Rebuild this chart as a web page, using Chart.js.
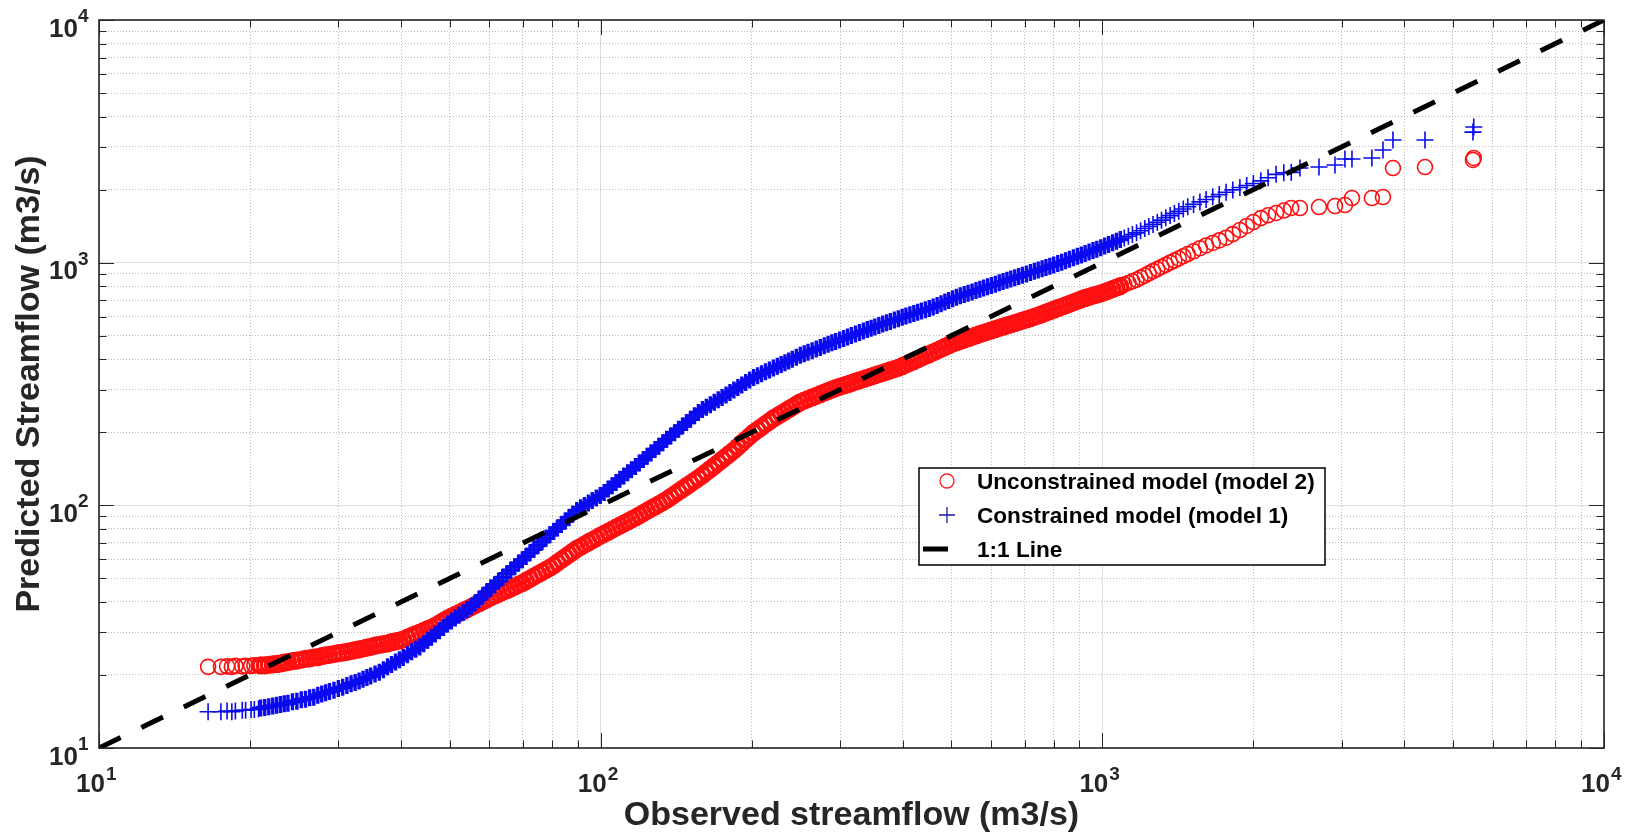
<!DOCTYPE html>
<html>
<head>
<meta charset="utf-8">
<title>Observed vs predicted streamflow</title>
<script src="https://cdn.jsdelivr.net/npm/chart.js@4.4.1/dist/chart.umd.min.js"></script>
<style>
  html, body { margin: 0; padding: 0; background: #fff; }
  #wrap { width: 1634px; height: 839px; position: relative; }
</style>
</head>
<body>
<div id="wrap"><canvas id="flowChart"></canvas></div>
<script>
// sorted observed flows (m3/s), shared by both models
const observed = [
  16.5, 17.5, 18.0, 18.4, 18.7, 19.3, 19.6, 20.1, 20.4, 20.8,
  21, 21.4, 21.8, 22.2, 22.6, 23, 23.4, 23.8, 24.3, 24.8,
  25.3, 25.8, 26.3, 26.8, 27.3, 27.8, 28.3, 28.8, 29.4, 30,
  30.6, 31.2, 31.8, 32.4, 33, 33.6, 34.2, 34.8, 35.5, 36.2,
  36.9, 37.6, 38.3, 39, 39.7, 40.4, 41.2, 42, 42.8, 43.6,
  44.4, 45.2, 46, 46.8, 47.7, 48.6, 49.5, 50.4, 51.3, 52.2,
  53.2, 54.2, 55.2, 56.2, 57.2, 58.2, 59.3, 60.4, 61.5, 62.6,
  63.8, 65, 66.2, 67.4, 68.6, 69.8, 71, 72.3, 73.6, 75,
  76.4, 77.8, 79.2, 80.6, 82, 83.5, 85, 86.5, 88, 89.6,
  91.2, 92.8, 94.5, 96.2, 98, 99.8, 101.6, 103.5, 105.4, 107.3,
  109.2, 111.2, 113.2, 115.2, 117.3, 119.4, 121.6, 123.8, 126, 128.3,
  130.6, 133, 135.4, 137.9, 140.4, 143, 145.6, 148.3, 151, 153.8,
  156.6, 159.5, 162.4, 165.4, 168.4, 171.5, 174.6, 177.8, 181, 184.3,
  187.7, 191.1, 194.6, 198.2, 201.8, 205.5, 209.3, 213.1, 217, 221,
  225, 229, 233, 237, 241, 245.5, 250, 254.5, 259, 264,
  269, 274, 279, 284, 289, 294, 299.5, 305, 310.5, 316,
  322, 328, 334, 340, 346, 352, 358.5, 365, 371.5, 378,
  385, 392, 399, 406, 413.5, 421, 428.5, 436, 444, 452,
  460, 468.5, 477, 485.5, 494, 503, 512, 521, 530.5, 540,
  550, 560, 570, 580, 590.5, 601, 612, 623, 634, 645.5,
  657, 669, 681, 693, 706, 719, 732, 745, 758.5, 772,
  786, 800, 815, 830, 845, 860, 876, 892, 908, 924,
  941, 958, 975, 993, 1011, 1029, 1048, 1067, 1086,
  1106, 1127, 1148, 1170, 1192, 1215, 1238, 1262, 1287, 1312,
  1338, 1365, 1392, 1420, 1450, 1480, 1520, 1565, 1610, 1660,
  1710, 1765, 1820, 1880, 1940, 2000, 2070, 2140, 2220, 2300,
  2380,
  2477, 2703, 2909, 3045, 3145, 3446, 3626, 3796, 4397, 5480, 5500
];

// unconstrained model (model 2), red circles
const model2 = [
  21.6, 21.6, 21.7, 21.6, 21.8, 21.7, 21.8, 21.8, 21.9, 21.9,
  21.9, 21.9, 22.0, 22.1, 22.2, 22.3, 22.5, 22.6, 22.8, 22.9,
  23.1, 23.3, 23.4, 23.6, 23.7, 23.9, 24.1, 24.2, 24.4, 24.6,
  24.7, 24.9, 25.1, 25.3, 25.5, 25.7, 25.9, 26.1, 26.4, 26.6,
  26.8, 27.0, 27.3, 27.5, 27.7, 28.0, 28.5, 29.0, 29.5, 29.9,
  30.4, 30.9, 31.3, 31.9, 32.6, 33.4, 34.1, 34.8, 35.4, 36.0,
  36.7, 37.4, 38.1, 38.8, 39.5, 40.2, 41.0, 41.8, 42.5, 43.2,
  44.0, 44.7, 45.5, 46.3, 47.1, 47.8, 48.8, 49.8, 50.9, 52.0,
  53.1, 54.2, 55.3, 56.6, 58.1, 59.6, 61.2, 62.8, 64.4, 66.1,
  67.5, 68.9, 70.3, 71.8, 73.3, 74.8, 76.3, 77.8, 79.4, 80.9,
  82.5, 84.1, 85.7, 87.4, 89.1, 91.0, 92.9, 94.9, 96.9, 98.9,
  101.0, 103.1, 105.4, 108.2, 111.0, 113.9, 116.8, 119.9, 123.0, 126.2,
  129.4, 133.0, 137.0, 141.1, 145.3, 149.7, 154.2, 158.8, 163.5, 168.5,
  174.3, 180.3, 186.5, 192.9, 199.2, 204.6, 210.3, 216.0, 221.9, 228.0,
  233.2, 238.4, 243.6, 248.8, 254.1, 260.0, 266.0, 270.0, 273.9, 278.3,
  282.7, 287.0, 291.4, 295.7, 300.0, 304.1, 307.9, 311.7, 315.4, 319.1,
  323.2, 327.2, 331.2, 335.0, 339.0, 343.0, 347.3, 351.5, 355.8, 360.0,
  364.5, 369.0, 374.4, 380.5, 386.9, 393.4, 399.9, 406.3, 413.2, 420.0,
  426.7, 434.2, 441.8, 449.4, 456.9, 464.0, 470.0, 475.9, 482.1, 488.3,
  494.8, 501.3, 507.7, 514.1, 520.1, 526.1, 532.3, 538.4, 544.6, 550.9,
  557.2, 563.7, 570.3, 576.7, 583.7, 590.6, 597.6, 605.8, 614.2, 622.6,
  631.3, 640.0, 649.2, 658.3, 667.5, 676.6, 686.3, 695.8, 705.5, 715.5,
  723.3, 731.1, 738.9, 747.1, 756.6, 767.3, 778.7, 790.0, 801.2,
  813, 825, 838, 850, 868, 885, 903, 923, 941, 960,
  980, 1000, 1020, 1041, 1063, 1085, 1114, 1147, 1177, 1206,
  1235, 1267, 1311, 1363, 1417, 1470, 1526, 1568, 1603, 1640,
  1680,
  1679, 1695, 1711, 1728, 1846, 1846, 1864, 2454, 2477, 2650, 2700
];

// constrained model (model 1), blue crosses
const model1 = [
  14.1, 14.1, 14.2, 14.1, 14.2, 14.3, 14.3, 14.4, 14.4, 14.5,
  14.6, 14.7, 14.8, 14.9, 15.0, 15.1, 15.2, 15.3, 15.5, 15.6,
  15.8, 15.9, 16.1, 16.2, 16.5, 16.7, 16.9, 17.1, 17.3, 17.6,
  17.8, 18.1, 18.4, 18.6, 18.9, 19.2, 19.5, 19.8, 20.2, 20.5,
  21.0, 21.6, 22.1, 22.6, 23.1, 23.6, 24.2, 24.9, 25.5, 26.1,
  26.9, 27.8, 28.6, 29.5, 30.4, 31.4, 32.4, 33.4, 34.3, 35.2,
  36.2, 37.2, 38.3, 39.6, 41.0, 42.4, 44.0, 45.6, 47.1, 48.7,
  50.5, 52.3, 54.1, 55.9, 57.8, 59.6, 61.6, 63.7, 65.9, 68.3,
  70.7, 73.1, 75.6, 78.1, 80.6, 83.4, 86.2, 89.1, 92.0, 95.2,
  97.7, 99.9, 102.2, 104.6, 107.2, 109.7, 113.0, 116.7, 120.4, 124.2,
  128.0, 132.0, 136.2, 140.3, 144.7, 149.3, 154.3, 159.3, 164.4, 169.8,
  175.3, 181.1, 187.0, 193.1, 199.2, 205.7, 212.3, 219.2, 226.3, 233.7,
  241.2, 248.0, 253.8, 259.8, 265.8, 272.1, 278.4, 285.0, 291.6, 298.6,
  305.9, 313.3, 320.9, 328.7, 336.3, 342.3, 348.6, 354.8, 361.1, 367.7,
  374.2, 380.7, 387.2, 393.7, 400.2, 407.6, 415.0, 421.1, 427.2, 434.0,
  440.7, 447.4, 454.1, 460.7, 467.4, 473.7, 480.5, 487.3, 494.1, 500.8,
  508.1, 515.4, 522.6, 530.0, 536.8, 543.6, 550.9, 558.2, 565.4, 572.7,
  580.3, 588.0, 595.7, 603.0, 610.4, 617.8, 625.2, 632.5, 640.3, 648.0,
  656.0, 666.6, 677.3, 687.8, 698.4, 709.7, 720.8, 729.8, 738.9, 748.0,
  757.5, 767.0, 776.4, 785.8, 795.6, 805.3, 815.5, 825.6, 835.6, 846.1,
  856.0, 866.6, 877.2, 887.6, 898.9, 910.1, 921.3, 932.4, 943.8, 955.3,
  967.0, 978.7, 991.1, 1004.3, 1018.3, 1032.2, 1047.0, 1061.6, 1076.2, 1090.8,
  1106.3, 1121.6, 1136.9, 1153.0, 1170.9, 1188.8, 1207.6, 1226.3, 1245.0,
  1264, 1285, 1306, 1327, 1354, 1382, 1410, 1438, 1468, 1497,
  1531, 1563, 1596, 1629, 1665, 1700, 1738, 1780, 1822, 1869,
  1908, 1952, 1995, 2040, 2080, 2120, 2173, 2238, 2312, 2346,
  2356,
  2454, 2477, 2527, 2674, 2674, 2699, 2912, 3201, 3201, 3452, 3622
];

// 1:1 reference line end points
const oneToOne = [10, 10000];

// log axes: decades carry labels, minor multiples only grid/ticks
const decades = [10, 100, 1000, 10000];
const decadeExp = ["1", "2", "3", "4"];
const minorMult = [2, 3, 4, 5, 6, 7, 8, 9];

const seriesNames = ["Unconstrained model (model 2)", "Constrained model (model 1)", "1:1 Line"];

const gridValues = [];
decades.forEach((d, i) => {
  gridValues.push(d);
  if (i < decades.length - 1) minorMult.forEach((m) => gridValues.push(d * m));
});

const FONT = "'Liberation Sans', Arial, Helvetica, sans-serif";
const AXIS_GRAY = "#262626";

// the original has thousands of daily points there, so the markers merge into a solid band
const DENSE_MAX = 1100;
const markerWidth = (thick, thin) => (ctx) =>
  ctx.raw && ctx.raw.x >= 21 && ctx.raw.x <= DENSE_MAX ? thick : thin;

const setTicks = (scale) => {
  scale.ticks = gridValues.map((v) => ({ value: v, major: decades.includes(v) }));
};

const gridColor = (ctx) => (ctx.tick && ctx.tick.major ? "rgba(0,0,0,0.13)" : "rgba(0,0,0,0.26)");
const gridDash = (ctx) => (ctx.tick && ctx.tick.major ? [] : [1, 2]);

// MATLAB-style box: inward ticks on all sides, superscript labels, legend
const matlabAxes = {
  id: "matlabAxes",
  afterDraw(chart) {
    const { ctx, chartArea: a, scales } = chart;
    const xs = scales.x;
    const ys = scales.y;
    ctx.save();

    ctx.strokeStyle = AXIS_GRAY;
    ctx.lineWidth = 1;
    ctx.beginPath();
    gridValues.forEach((v) => {
      const len = decades.includes(v) ? 15 : 7.5;
      const px = Math.round(xs.getPixelForValue(v)) + 0.5;
      ctx.moveTo(px, a.bottom); ctx.lineTo(px, a.bottom - len);
      ctx.moveTo(px, a.top); ctx.lineTo(px, a.top + len);
      const py = Math.round(ys.getPixelForValue(v)) + 0.5;
      ctx.moveTo(a.left, py); ctx.lineTo(a.left + len, py);
      ctx.moveTo(a.right, py); ctx.lineTo(a.right - len, py);
    });
    ctx.stroke();

    ctx.lineWidth = 1.6;
    ctx.strokeRect(a.left, a.top, a.right - a.left, a.bottom - a.top);

    // tick labels 10^n
    ctx.fillStyle = AXIS_GRAY;
    ctx.textBaseline = "alphabetic";
    decades.forEach((d, i) => {
      const px = xs.getPixelForValue(d);
      ctx.font = "bold 26px " + FONT;
      ctx.textAlign = "right";
      ctx.fillText("10", px + 6, 792);
      ctx.font = "bold 19px " + FONT;
      ctx.textAlign = "left";
      ctx.fillText(decadeExp[i], px + 7, 780);

      const py = ys.getPixelForValue(d);
      ctx.font = "bold 26px " + FONT;
      ctx.textAlign = "right";
      ctx.fillText("10", 78, py + 16.5);
      ctx.font = "bold 19px " + FONT;
      ctx.textAlign = "left";
      ctx.fillText(decadeExp[i], 78, py + 2);
    });

    // legend
    const box = { x: 919, y: 468, w: 406, h: 97 };
    ctx.fillStyle = "#fff";
    ctx.fillRect(box.x, box.y, box.w, box.h);
    ctx.strokeStyle = "#000";
    ctx.lineWidth = 1.5;
    ctx.strokeRect(box.x, box.y, box.w, box.h);

    const rows = [489, 523, 557];
    const mx = 947;
    ctx.strokeStyle = "#ff2020";
    ctx.lineWidth = 1.3;
    ctx.beginPath();
    ctx.arc(mx, rows[0] - 8, 7, 0, Math.PI * 2);
    ctx.stroke();

    ctx.strokeStyle = "#1a1aa8";
    ctx.lineWidth = 1.3;
    ctx.beginPath();
    ctx.moveTo(mx - 8, rows[1] - 8); ctx.lineTo(mx + 8, rows[1] - 8);
    ctx.moveTo(mx, rows[1] - 16); ctx.lineTo(mx, rows[1]);
    ctx.stroke();

    ctx.strokeStyle = "#000";
    ctx.lineWidth = 5;
    ctx.beginPath();
    ctx.moveTo(923, rows[2] - 8); ctx.lineTo(948, rows[2] - 8);
    ctx.stroke();

    ctx.fillStyle = "#000";
    ctx.font = "bold 22.6px " + FONT;
    ctx.textAlign = "left";
    seriesNames.forEach((name, i) => ctx.fillText(name, 977, rows[i]));

    ctx.restore();
  }
};

const redPoints = observed.map((x, i) => ({ x, y: model2[i] }));
const bluePoints = observed.map((x, i) => ({ x, y: model1[i] }));
const linePoints = oneToOne.map((v) => ({ x: v, y: v }));

new Chart(document.getElementById("flowChart"), {
  type: "scatter",
  data: {
    datasets: [
      {
        label: seriesNames[2],
        data: linePoints,
        showLine: true,
        borderColor: "#000",
        borderWidth: 5,
        borderDash: [24, 23.1],
        borderCapStyle: "butt",
        pointRadius: 0,
        order: 0
      },
      {
        label: seriesNames[1],
        data: bluePoints,
        pointStyle: "cross",
        pointRadius: 8.5,
        pointBorderWidth: markerWidth(3.4, 1.6),
        borderColor: "#0a0af0",
        backgroundColor: "#0a0af0",
        order: 1
      },
      {
        label: seriesNames[0],
        data: redPoints,
        pointStyle: "circle",
        pointRadius: 7.5,
        pointBorderWidth: markerWidth(3.2, 1.6),
        borderColor: "#ff1010",
        backgroundColor: "rgba(0,0,0,0)",
        order: 2
      }
    ]
  },
  options: {
    responsive: true,
    maintainAspectRatio: false,
    animation: false,
    events: [],
    layout: { padding: { top: 20, right: 30, left: 0, bottom: 0 } },
    plugins: { legend: { display: false }, tooltip: { enabled: false } },
    scales: {
      x: {
        type: "logarithmic",
        min: 10,
        max: 10000,
        afterBuildTicks: setTicks,
        afterFit: (s) => { s.height = 91; },
        ticks: { display: false, autoSkip: false },
        grid: { color: gridColor, lineWidth: 1, drawTicks: false },
        border: { display: false, dash: gridDash },
        title: {
          display: true,
          text: "Observed streamflow (m3/s)",
          color: AXIS_GRAY,
          font: { family: FONT, size: 34, weight: "bold" },
          padding: { top: 0, bottom: 3 }
        }
      },
      y: {
        type: "logarithmic",
        min: 10,
        max: 10000,
        afterBuildTicks: setTicks,
        afterFit: (s) => { s.width = 99; },
        ticks: { display: false, autoSkip: false },
        grid: { color: gridColor, lineWidth: 1, drawTicks: false },
        border: { display: false, dash: gridDash },
        title: {
          display: true,
          text: "Predicted Streamflow (m3/s)",
          color: AXIS_GRAY,
          font: { family: FONT, size: 34, weight: "bold" },
          padding: { top: 9, bottom: 0 }
        }
      }
    }
  },
  plugins: [matlabAxes]
});
</script>
</body>
</html>
